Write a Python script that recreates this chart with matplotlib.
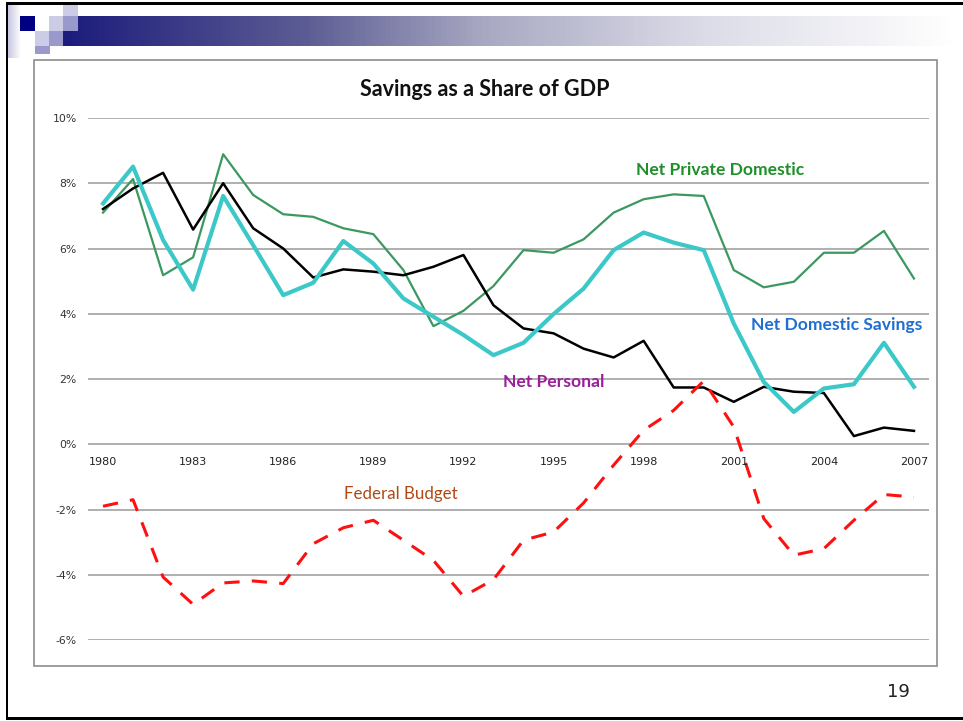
import numpy as np
import matplotlib
matplotlib.use("Agg")
from matplotlib import pyplot as plt
from matplotlib.patches import Rectangle
from matplotlib.colors import LinearSegmentedColormap

years = list(range(1980, 2008))

net_personal = [7.21, 7.84, 8.32, 6.58, 8.00, 6.62, 6.00, 5.11, 5.36, 5.29,
                5.18, 5.44, 5.80, 4.26, 3.55, 3.40, 2.93, 2.66, 3.17, 1.74,
                1.74, 1.30, 1.76, 1.61, 1.57, 0.25, 0.51, 0.41]

net_private_domestic = [7.10, 8.13, 5.18, 5.73, 8.89, 7.64, 7.05, 6.97, 6.62, 6.44,
                        5.34, 3.62, 4.09, 4.85, 5.95, 5.87, 6.28, 7.10, 7.51, 7.66,
                        7.61, 5.34, 4.81, 4.98, 5.87, 5.87, 6.54, 5.08]

net_domestic_savings = [7.38, 8.51, 6.26, 4.74, 7.61, 6.10, 4.57, 4.95, 6.23, 5.54,
                        4.47, 3.91, 3.35, 2.73, 3.11, 3.99, 4.77, 5.95, 6.49, 6.18,
                        5.95, 3.70, 1.91, 0.99, 1.71, 1.84, 3.11, 1.76]

federal_budget = [-1.90, -1.70, -4.07, -4.91, -4.25, -4.19, -4.27, -3.05, -2.56, -2.33,
                  -2.94, -3.56, -4.66, -4.15, -2.94, -2.69, -1.80, -0.64, 0.43, 1.04,
                  1.94, 0.53, -2.28, -3.40, -3.20, -2.33, -1.54, -1.62]

yticks = [-6, -4, -2, 0, 2, 4, 6, 8, 10]
xlabel_years = years[::3]

W, H = 963, 721
fig = plt.figure(figsize=(W / 100, H / 100), dpi=100)


def box(x0, y0, x1, y1):
    # pixel box (top-left origin) -> figure fractions
    return x0 / W, 1 - y1 / H, (x1 - x0) / W, (y1 - y0) / H


def rect(x0, y0, x1, y1, color, **kw):
    l, b, w, h = box(x0, y0, x1, y1)
    fig.add_artist(Rectangle((l, b), w, h, transform=fig.transFigure,
                             facecolor=color, edgecolor="none", **kw))


# slide decoration: gradient bar and squares
bar_cmap = LinearSegmentedColormap.from_list(
    "bar", [(0, "#1c1c7c"), (0.27, "#5c5c94"), (0.47, "#a8a8c2"),
            (0.72, "#dcdce8"), (1, "#ffffff")])
bar_ax = fig.add_axes(box(63, 16, 955, 46))
bar_ax.imshow(np.linspace(0, 1, 400)[None, :], aspect="auto", cmap=bar_cmap)
bar_ax.axis("off")

strip_cmap = LinearSegmentedColormap.from_list("strip", ["#c8c8e2", "#ffffff"])
strip_ax = fig.add_axes(box(8, 5, 21, 58))
strip_ax.imshow(np.linspace(0, 1, 50)[None, :], aspect="auto", cmap=strip_cmap)
strip_ax.axis("off")

light, medium = "#ccccE6", "#9999cc"
rect(35, 16, 49, 31, "white", zorder=3)
rect(20, 16, 35, 31, "#000080", zorder=3)
rect(49, 16, 63, 31, light, zorder=3)
rect(63, 16, 78, 31, medium, zorder=3)
rect(63, 5, 78, 16, light, zorder=3)
rect(35, 31, 49, 46, light, zorder=3)
rect(49, 31, 63, 46, medium, zorder=3)
rect(35, 46, 50, 54, medium, zorder=3)

# slide frame
rect(6, 2, 963, 5, "black", zorder=4)
rect(6, 2, 8, 720, "black", zorder=4)
rect(6, 717, 963, 720, "black", zorder=4)

# chart border
l, b, w, h = box(34, 60, 937, 666)
fig.add_artist(Rectangle((l, b), w, h, transform=fig.transFigure,
                         facecolor="none", edgecolor="#8c8c8c", lw=1.2))

fig.text(898 / W, 1 - 692 / H, "19", ha="center", va="center",
         fontsize=13, color="#222222", family="DejaVu Sans")

# chart
ax = fig.add_axes(box(88, 118, 929, 640))
for t in yticks:
    ax.axhline(t, color="#9a9a9a", lw=1.1, zorder=0)

ax.plot(years, net_private_domestic, color="#3a9860", lw=1.6)
ax.plot(years, net_personal, color="black", lw=1.8)
ax.plot(years, net_domestic_savings, color="#3cc8c8", lw=3)
ax.plot(years, federal_budget, color="#ff1010", lw=2.2, dashes=(5, 4))

ax.set_xlim(1979.5, 2007.5)
ax.set_ylim(-6, 10)
ax.set_xticks([])
ax.set_yticks(yticks)
ax.set_yticklabels(["%d%%" % t for t in yticks], fontsize=7.8, color="#333333")
ax.tick_params(axis="y", length=0, pad=8)
for s in ax.spines.values():
    s.set_visible(False)

for yr in xlabel_years:
    ax.text(yr, -0.55, str(yr), ha="center", va="center", fontsize=8, color="#222222")

ax.text(2000.54, 8.40, "Net Private Domestic", ha="center", va="center",
        fontsize=12.6, fontweight="bold", color="#1f8f2a", family="Lato")
ax.text(2004.43, 3.65, "Net Domestic Savings", ha="center", va="center",
        fontsize=12.6, fontweight="bold", color="#1f6fd0", family="Lato")
ax.text(1995.01, 1.90, "Net Personal", ha="center", va="center",
        fontsize=12.6, fontweight="bold", color="#9a1f9a", family="Lato")
ax.text(1989.92, -1.53, "Federal Budget", ha="center", va="center",
        fontsize=12.2, color="#b04a14", family="Lato")

fig.text(485 / W, 1 - 90 / H, "Savings as a Share of GDP", ha="center", va="center",
         fontsize=15.5, fontweight="bold", color="#111111", family="Lato")

fig.savefig("out.png", dpi=100)
